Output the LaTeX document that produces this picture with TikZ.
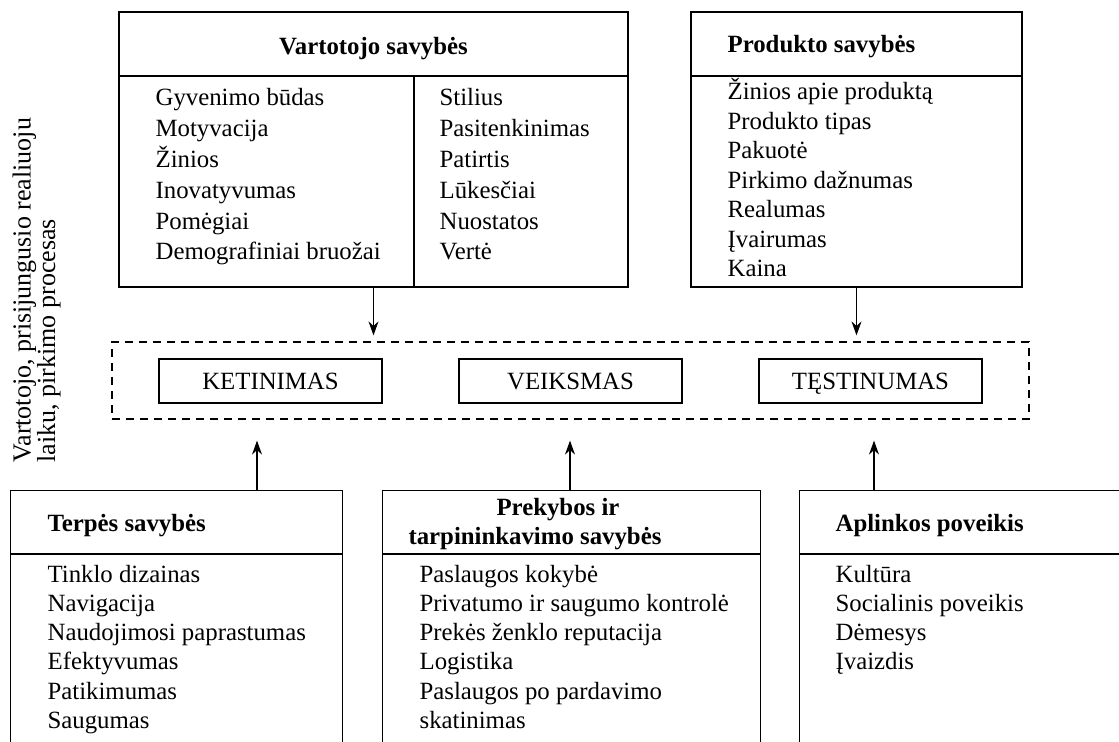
\documentclass[tikz,border=0pt]{standalone}
\usepackage{fontspec}
\setmainfont{Liberation Serif}
\usetikzlibrary{positioning,fit,calc,arrows.meta}

\newcommand{\txtsize}{\fontsize{12.4}{14}\selectfont}
\newcommand{\sidesize}{\fontsize{13}{12.2}\selectfont\lineskiplimit-20pt\relax}
\tikzset{
  frame/.style={inner sep=0pt,fit={#1}},
  head/.style={font=\txtsize\bfseries,inner sep=0pt,anchor=base west},
  item/.style={inner sep=0pt,anchor=base west},
  stage/.style={draw,inner sep=0pt,minimum width=111.5pt,minimum height=22pt,
    text height=10pt,text depth=1pt},
}

\begin{document}
\begin{tikzpicture}[x=.5pt,y=-.5pt,line width=.6pt,
 >={Stealth[length=7pt,width=5pt]},font=\txtsize]
\useasboundingbox (0,0) rectangle (1119,742);
% side label
\node[rotate=90,anchor=north west,align=left,inner sep=0pt,
  font=\sidesize] (lab) at (12,463)
  {Vartotojo, prisijungusio realiuoju\\laiku, pirkimo procesas};
% consumer box
\node[draw,frame={(119,12)(628,287)}] (vart) {};
\draw (119,76) -- (628,76);
\draw (414,76) -- (414,287);
\node[head,anchor=base] (vartH) at (373.5,55) {Vartotojo savybės};
\foreach \t [count=\i] in {Gyvenimo būdas,Motyvacija,Žinios,Inovatyvumas,
  Pomėgiai,Demografiniai bruožai}
  \node[item] (vl\i) at (155,75.2+30.8*\i) {\t};
\foreach \t [count=\i] in {Stilius,Pasitenkinimas,Patirtis,Lūkesčiai,
  Nuostatos,Vertė}
  \node[item] (vr\i) at (439,75.2+30.8*\i) {\t};
% product box
\node[draw,frame={(691,12)(1022,287)}] (prod) {};
\draw (691,76) -- (1022,76);
\node[head] (prodH) at (727,53) {Produkto savybės};
\foreach \t [count=\i] in {Žinios apie produktą,Produkto tipas,Pakuotė,
  Pirkimo dažnumas,Realumas,Įvairumas,Kaina}
  \node[item] (p\i) at (727,70.5+29.5*\i) {\t};
% process
\node[draw,dashed,dash pattern=on 4pt off 3pt,frame={(112,342)(1029,419)}] (proc) {};
\node[stage] (ket) at (270.5,381) {KETINIMAS};
\node[stage] (vei) at (570.5,381) {VEIKSMAS};
\node[stage] (tes) at (870.5,381) {TĘSTINUMAS};
\draw[->,shorten >=3pt] (vart.south) -- (vart.south |- proc.north);
\draw[->,shorten >=3pt] (prod.south) -- (prod.south |- proc.north);
% bottom boxes
\node[frame={(11,491)(342,742)}] (terp) {};
\draw (terp.south west) -- (terp.north west) -- (terp.north east) -- (terp.south east);
\draw (11,554) -- (342,554);
\node[head] (terpH) at (47,532) {Terpės savybės};
\foreach \t [count=\i] in {Tinklo dizainas,Navigacija,Naudojimosi paprastumas,
  Efektyvumas,Patikimumas,Saugumas}
  \node[item] (t\i) at (47,552.7+29.3*\i) {\t};
\node[frame={(383,491)(760,742)}] (prek) {};
\draw (prek.south west) -- (prek.north west) -- (prek.north east) -- (prek.south east);
\draw (383,554) -- (760,554);
\node[head,anchor=base] (prekH) at (558,516) {Prekybos ir};
\node[head,anchor=base] (prekH2) at (535,545) {tarpininkavimo savybės};
\foreach \t [count=\i] in {Paslaugos kokybė,Privatumo ir saugumo kontrolė,
  Prekės ženklo reputacija,Logistika,Paslaugos po pardavimo,skatinimas}
  \node[item] (k\i) at (419,552.7+29.3*\i) {\t};
\node[frame={(800,491)(1119,742)}] (apl) {};
\draw (apl.south west) -- (apl.north west) -- (apl.north east);
\draw (800,554) -- (1119,554);
\node[head] (aplH) at (835,532) {Aplinkos poveikis};
\foreach \t [count=\i] in {Kultūra,Socialinis poveikis,Dėmesys,Įvaizdis}
  \node[item] (a\i) at (835,552.7+29.3*\i) {\t};
% arrows up
\coordinate (ta) at (257,491);
\coordinate (ka) at (570,491);
\coordinate (aa) at (874,491);
\foreach \c in {ta,ka,aa}
  \draw[->,shorten >=10.5pt] (\c) -- (\c |- proc.south);
\end{tikzpicture}
\end{document}
